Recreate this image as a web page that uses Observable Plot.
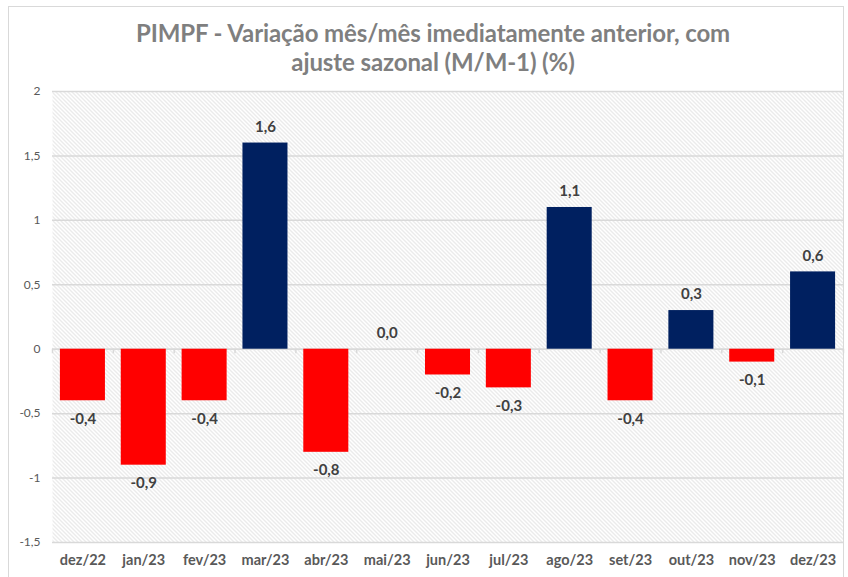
<!DOCTYPE html>
<html>
<head>
<meta charset="utf-8">
<script src="https://cdn.jsdelivr.net/npm/d3@7"></script>
<script src="https://cdn.jsdelivr.net/npm/@observablehq/plot@0.6"></script>
<style>
  html, body { margin: 0; padding: 0; background: #fff; }
  #wrap { position: relative; width: 848px; height: 577px; overflow: hidden; font-family: Lato, "Open Sans", sans-serif; }
  #border { position: absolute; left: 8px; top: 6px; width: 834px; height: 600px; border: 1px solid #d9d9d9; pointer-events: none; }
  #title { height: 80px; box-sizing: border-box; padding-top: 18px; text-align: center; color: #7f7f7f; font-weight: bold; font-size: 24px; line-height: 29px; padding-left: 18px; letter-spacing: -0.1px; }
  svg { display: block; }
</style>
</head>
<body>
<div id="wrap">
  <div id="border"></div>
  <div id="title">PIMPF - Variação mês/mês imediatamente anterior, com<br>ajuste sazonal (M/M-1) (%)</div>
  <div id="chart"></div>
</div>
<script>
const months = ["dez/22","jan/23","fev/23","mar/23","abr/23","mai/23","jun/23","jul/23","ago/23","set/23","out/23","nov/23","dez/23"];
const values = [-0.4, -0.9, -0.4, 1.6, -0.8, 0.0, -0.2, -0.3, 1.1, -0.4, 0.3, -0.1, 0.6];
const yTicks = [-1.5, -1, -0.5, 0, 0.5, 1, 1.5, 2];

const data = months.map((m, i) => ({month: m, value: values[i]}));
const fmt = v => String(Math.abs(v) < 1e-9 ? "0,0" : v.toFixed(1)).replace(".", ",");
const tickFmt = v => String(v).replace(".", ",");

const W = 848, H = 497, ML = 52, MR = 5;
const step = (W - ML - MR) / months.length;

const chart = Plot.plot({
  width: W,
  height: H,
  marginTop: 11,
  marginBottom: 35,
  marginLeft: ML,
  marginRight: MR,
  style: {fontFamily: "Lato, 'Open Sans', sans-serif", background: "transparent"},
  x: {domain: months, paddingInner: 0.26, paddingOuter: 0.13, round: false, label: null},
  y: {domain: [-1.5, 2], label: null},
  marks: [
    Plot.frame({fill: "#ececec", stroke: null}),
    Plot.gridY(yTicks, {stroke: "#d9d9d9", strokeOpacity: 1, strokeWidth: 1.5}),
    Plot.ruleY([0], {stroke: "#d9d9d9", strokeWidth: 1.5}),
    Plot.ruleX(months, {x: d => d, dx: -step / 2, y1: 0, y2: -0.035, stroke: "#d9d9d9", strokeWidth: 1.5}),
    Plot.ruleX(months.slice(-1), {x: d => d, dx: step / 2, y1: 0, y2: -0.035, stroke: "#d9d9d9", strokeWidth: 1.5}),
    Plot.barY(data, {x: "month", y: "value", fill: d => d.value < 0 ? "#ff0000" : "#002060"}),
    Plot.text(data, {x: "month", y: "value", text: d => fmt(d.value),
      fill: "#404040", fontWeight: "bold", fontSize: 15,
      filter: d => d.value >= 0, lineAnchor: "middle", dy: -16}),
    Plot.text(data, {x: "month", y: "value", text: d => fmt(d.value),
      fill: "#404040", fontWeight: "bold", fontSize: 15,
      filter: d => d.value < 0, lineAnchor: "middle", dy: 18}),
    Plot.axisY(yTicks, {tickSize: 0, tickPadding: 12, tickFormat: tickFmt, fontSize: 12, fill: "#595959", textAnchor: "end"}),
    Plot.axisX({tickSize: 0, tickPadding: 12, fontSize: 14.5, fontWeight: "bold", fill: "#595959"})
  ]
});

document.getElementById("chart").appendChild(chart);
const svg = d3.select(chart);
const defs = svg.insert("defs", ":first-child");
const pat = defs.append("pattern").attr("id", "hatch").attr("patternUnits", "userSpaceOnUse")
  .attr("width", 4).attr("height", 4);
pat.append("rect").attr("width", 4).attr("height", 4).attr("fill", "#ffffff");
pat.append("path").attr("d", "M-1,-1 L5,5 M-1,3 L1,5 M3,-1 L5,1").attr("stroke", "#d6d6d6").attr("stroke-width", 1);
svg.selectAll('[aria-label="frame"]').attr("fill", "url(#hatch)");
svg.selectAll('[aria-label="frame"] rect').attr("fill", "url(#hatch)");
</script>
</body>
</html>
